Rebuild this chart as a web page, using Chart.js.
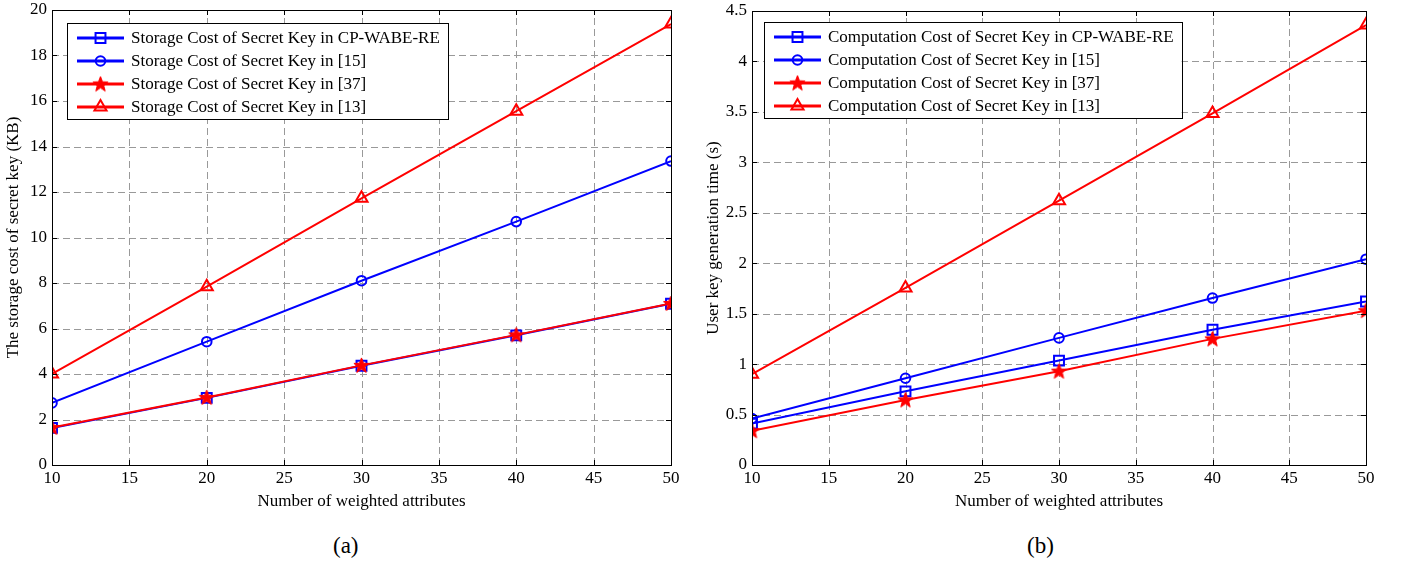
<!DOCTYPE html>
<html>
<head>
<meta charset="utf-8">
<script src="https://cdn.jsdelivr.net/npm/chart.js@4.4.0/dist/chart.umd.min.js"></script>
<style>
  html,body{margin:0;padding:0;background:#fff;width:1403px;height:568px;overflow:hidden;}
  canvas{position:absolute;top:0;}
  #c1{left:0;}
  #c2{left:700px;}
  .cap{position:absolute;font-family:"Liberation Serif","Times New Roman",serif;font-size:23px;color:#000;top:533px;}
</style>
</head>
<body>
<canvas id="c1" width="700" height="515"></canvas>
<canvas id="c2" width="703" height="515"></canvas>
<div class="cap" style="left:333px;">(a)</div>
<div class="cap" style="left:1027px;">(b)</div>
<script>
// ---- data ----
const xValues = [10, 20, 30, 40, 50];
const xTicks = [10, 15, 20, 25, 30, 35, 40, 45, 50];

const storageCPWABE = [1.63, 2.95, 4.36, 5.70, 7.09];
const storage15     = [2.73, 5.42, 8.10, 10.70, 13.36];
const storage37     = [1.65, 2.97, 4.38, 5.72, 7.10];
const storage13     = [4.00, 7.84, 11.72, 15.55, 19.38];

const compCPWABE = [0.41, 0.73, 1.035, 1.34, 1.62];
const comp15     = [0.46, 0.86, 1.26, 1.655, 2.04];
const comp37     = [0.34, 0.645, 0.93, 1.25, 1.53];
const comp13     = [0.90, 1.755, 2.62, 3.485, 4.36];

const leftLabels = ['Storage Cost of Secret Key in CP-WABE-RE','Storage Cost of Secret Key in [15]','Storage Cost of Secret Key in [37]','Storage Cost of Secret Key in [13]'];
const rightLabels = ['Computation Cost of Secret Key in CP-WABE-RE','Computation Cost of Secret Key in [15]','Computation Cost of Secret Key in [37]','Computation Cost of Secret Key in [13]'];

const BLUE = '#0000ff', RED = '#ff0000';
const FONT = '"Liberation Serif", "Times New Roman", serif';
const FS = 17;

// pentagram marker
function makeStar(size){
  const c = document.createElement('canvas');
  c.width = size; c.height = size;
  const g = c.getContext('2d');
  const cx = size/2, cy = size/2 + 0.5, R = size/2 - 0.5, r = R*0.42;
  g.beginPath();
  for (let i=0;i<10;i++){
    const a = -Math.PI/2 + i*Math.PI/5;
    const rr = i%2===0 ? R : r;
    const px = cx + rr*Math.cos(a), py = cy + rr*Math.sin(a);
    if(i===0) g.moveTo(px,py); else g.lineTo(px,py);
  }
  g.closePath();
  g.fillStyle = RED; g.fill();
  g.strokeStyle = RED; g.lineWidth = 1; g.stroke();
  return c;
}
const starImg = makeStar(17);

function pts(ys){ return xValues.map((x,i)=>({x:x,y:ys[i]})); }

function makeDatasets(labels, a, b, c, d){
  return [
    {label:labels[0], data:pts(a), borderColor:BLUE, pointStyle:'rect', pointRadius:7, order:3},
    {label:labels[1], data:pts(b), borderColor:BLUE, pointStyle:'circle', pointRadius:4.8, order:2},
    {label:labels[2], data:pts(c), borderColor:RED, pointStyle:starImg, pointRadius:8, order:1},
    {label:labels[3], data:pts(d), borderColor:RED, pointStyle:'triangle', pointRadius:7, order:0}
  ].map(ds=>Object.assign({
    borderWidth:2, pointBorderWidth:2, pointBackgroundColor:'rgba(0,0,0,0)',
    pointBorderColor:ds.borderColor, tension:0, fill:false, pointHoverRadius:ds.pointRadius
  }, ds));
}

// dashed grid, frame, inner ticks and custom legend
const matlabPlugin = {
  id:'matlab',
  beforeDatasetsDraw(chart){
    const ctx = chart.ctx, a = chart.chartArea;
    const xs = chart.scales.x, ys = chart.scales.y;
    ctx.save();
    ctx.strokeStyle = '#999999'; ctx.lineWidth = 1; ctx.setLineDash([7,4]);
    ctx.beginPath();
    xs.ticks.forEach(t=>{
      const px = Math.round(xs.getPixelForValue(t.value))+0.5;
      ctx.moveTo(px, a.bottom); ctx.lineTo(px, a.top);
    });
    ys.ticks.forEach(t=>{
      const py = Math.round(ys.getPixelForValue(t.value))+0.5;
      ctx.moveTo(a.left, py); ctx.lineTo(a.right, py);
    });
    ctx.stroke();
    ctx.restore();
  },
  afterDraw(chart, args, opts){
    const ctx = chart.ctx, a = chart.chartArea;
    const xs = chart.scales.x, ys = chart.scales.y;
    ctx.save();
    ctx.strokeStyle = '#000'; ctx.lineWidth = 1;
    ctx.strokeRect(Math.round(a.left)+0.5, Math.round(a.top)+0.5, Math.round(a.right-a.left), Math.round(a.bottom-a.top));
    ctx.beginPath();
    xs.ticks.forEach(t=>{
      const px = Math.round(xs.getPixelForValue(t.value))+0.5;
      ctx.moveTo(px, a.bottom); ctx.lineTo(px, a.bottom-5);
      ctx.moveTo(px, a.top); ctx.lineTo(px, a.top+5);
    });
    ys.ticks.forEach(t=>{
      const py = Math.round(ys.getPixelForValue(t.value))+0.5;
      ctx.moveTo(a.left, py); ctx.lineTo(a.left+5, py);
      ctx.moveTo(a.right, py); ctx.lineTo(a.right-5, py);
    });
    ctx.stroke();

    // legend
    const bx = a.left + opts.dx, by = a.top + opts.dy, rowH = 23;
    ctx.font = FS + 'px ' + FONT;
    let maxW = 0;
    chart.data.datasets.forEach(ds=>{ maxW = Math.max(maxW, ctx.measureText(ds.label).width); });
    const bw = 64 + maxW + 8, bh = 96;
    ctx.fillStyle = '#fff';
    ctx.fillRect(bx, by, bw, bh);
    ctx.strokeStyle = '#000'; ctx.lineWidth = 1;
    ctx.strokeRect(Math.round(bx)+0.5, Math.round(by)+0.5, Math.round(bw), Math.round(bh));
    chart.data.datasets.forEach((ds,i)=>{
      const cy = by + 15 + i*rowH;
      ctx.strokeStyle = ds.borderColor; ctx.lineWidth = 3;
      ctx.beginPath(); ctx.moveTo(bx+10, cy); ctx.lineTo(bx+57, cy); ctx.stroke();
      ctx.lineWidth = 2;
      ctx.fillStyle = 'rgba(0,0,0,0)';
      Chart.helpers.drawPoint(ctx, {pointStyle:ds.pointStyle, radius:ds.pointRadius, borderWidth:2, rotation:0}, bx+33.5, cy);
      ctx.fillStyle = '#000';
      ctx.textBaseline = 'middle'; ctx.textAlign = 'left';
      ctx.fillText(ds.label, bx+64, cy+1);
    });
    ctx.restore();
  }
};

function makeChart(id, datasets, yMax, yStep, yTitle, padRight, padTop, legendPos){
  return new Chart(document.getElementById(id), {
    type:'line',
    data:{datasets:datasets},
    plugins:[matlabPlugin],
    options:{
      responsive:false, animation:false, devicePixelRatio:1,
      layout:{padding:{left:0, right:padRight, top:padTop, bottom:0}},
      plugins:{legend:{display:false}, tooltip:{enabled:false}, matlab:legendPos},
      scales:{
        x:{
          type:'linear', min:10, max:50,
          afterBuildTicks(s){ s.ticks = xTicks.map(v=>({value:v})); },
          afterFit(s){ s.height = 50; s.paddingLeft = 0; s.paddingRight = 0; },
          grid:{display:false, drawTicks:false},
          border:{display:false},
          ticks:{color:'#000', font:{family:FONT, size:FS}, padding:3, maxRotation:0},
          title:{display:true, text:'Number of weighted attributes', color:'#000', font:{family:FONT, size:FS}, padding:{top:0,bottom:3}}
        },
        y:{
          type:'linear', min:0, max:yMax,
          ticks:{stepSize:yStep, color:'#000', font:{family:FONT, size:FS}, padding:5,
                 callback:(v)=>String(Math.round(v*10)/10)},
          afterFit(s){ s.width = 52; s.paddingTop = 0; s.paddingBottom = 0; },
          grid:{display:false, drawTicks:false},
          border:{display:false},
          title:{display:true, text:yTitle, color:'#000', font:{family:FONT, size:FS}, padding:{top:3,bottom:0}}
        }
      }
    }
  });
}

makeChart('c1', makeDatasets(leftLabels, storageCPWABE, storage15, storage37, storage13), 20, 2,
  'The storage cost of secret key (KB)', 29, 10, {dx:15, dy:13});
makeChart('c2', makeDatasets(rightLabels, compCPWABE, comp15, comp37, comp13), 4.5, 0.5,
  'User key generation time (s)', 37, 11, {dx:12, dy:11});
</script>
</body>
</html>
